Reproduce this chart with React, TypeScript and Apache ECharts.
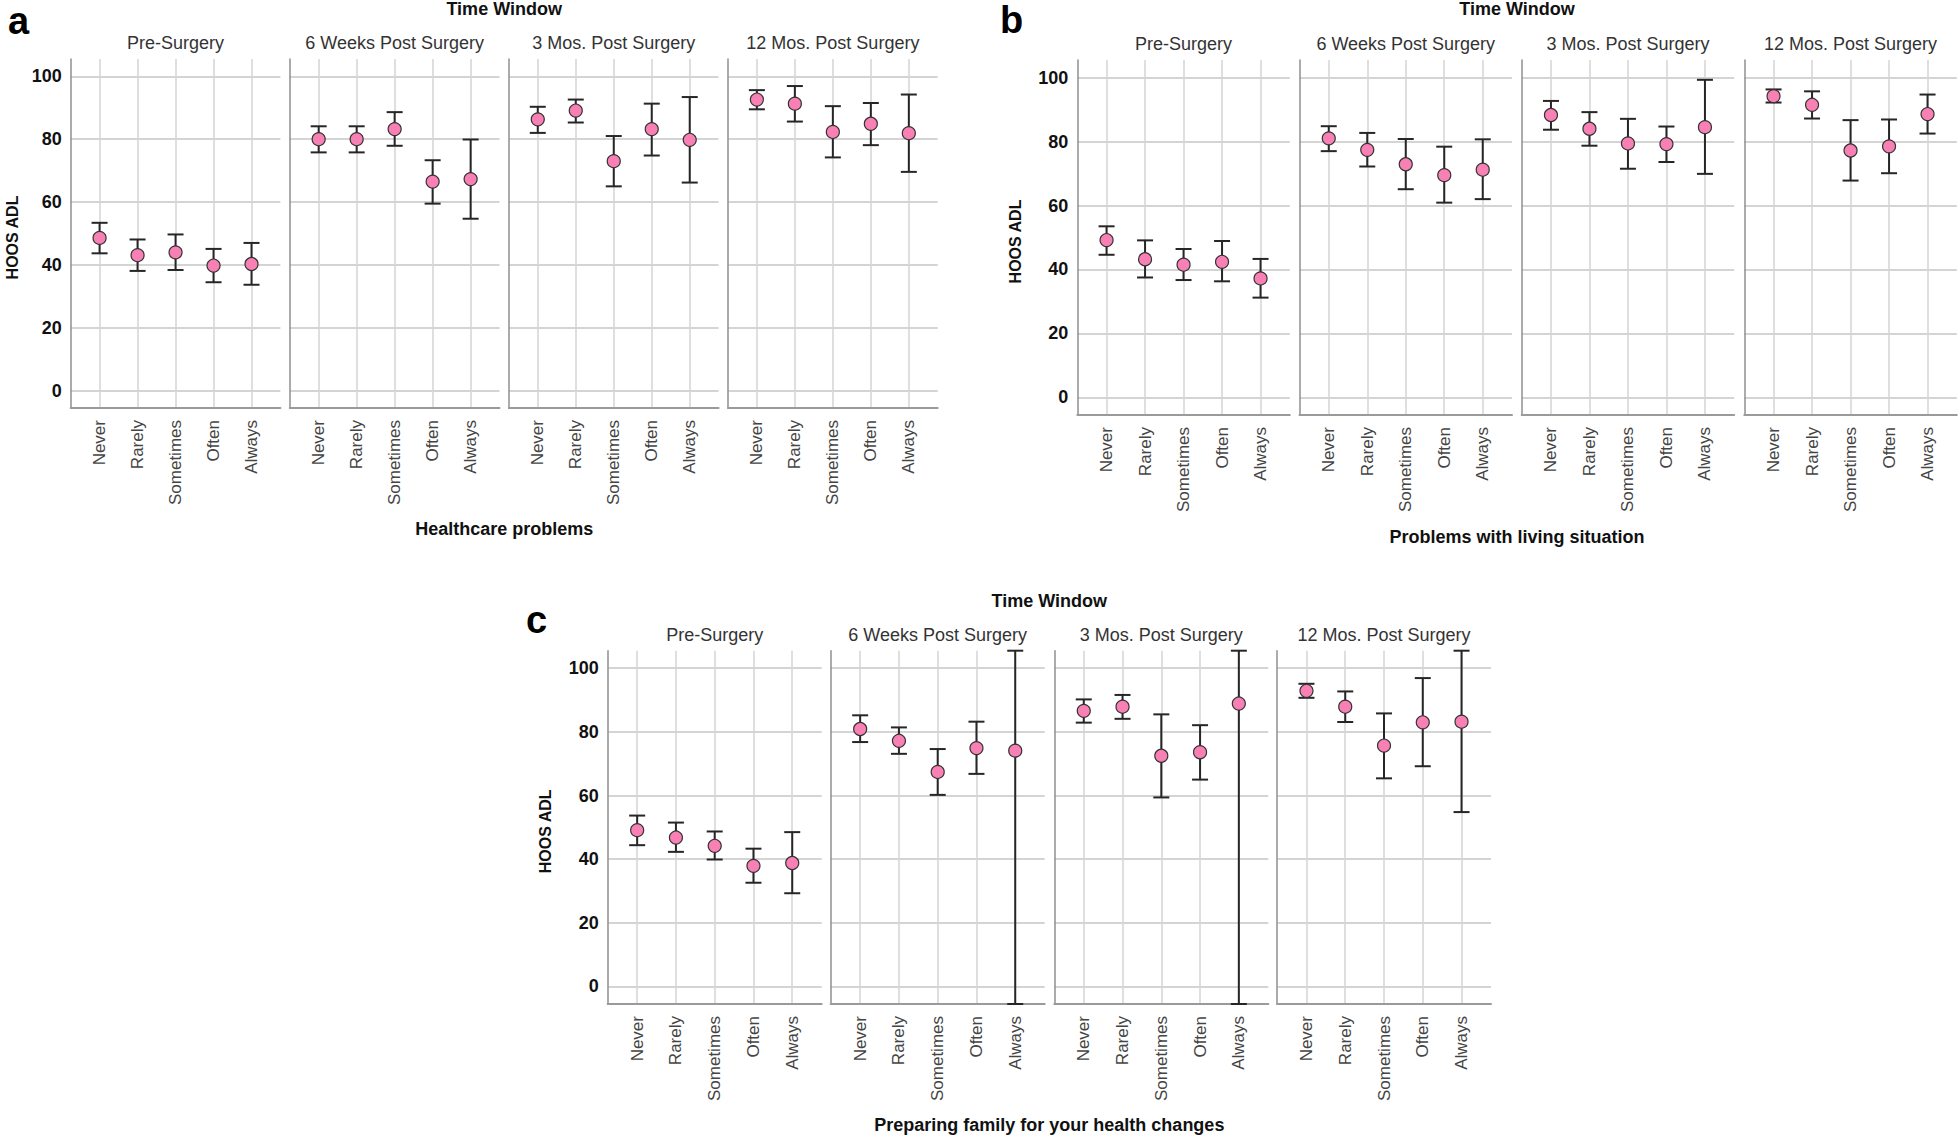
import React, { useEffect, useRef } from 'react';
import * as echarts from 'echarts';

// ---------- DATA ----------
const CATEGORIES = ['Never', 'Rarely', 'Sometimes', 'Often', 'Always'];
const TIME_WINDOWS = ['Pre-Surgery', '6 Weeks Post Surgery', '3 Mos. Post Surgery', '12 Mos. Post Surgery'];
const Y_TICKS = [0, 20, 40, 60, 80, 100];
const X_TICKS = [0, 1, 2, 3, 4];

// (a) Healthcare problems — rows: time windows, cols: categories
const A_MEAN = [
  [48.6, 43.1, 44.0, 39.8, 40.3],
  [80.0, 80.0, 83.2, 66.5, 67.3],
  [86.3, 89.1, 73.0, 83.2, 79.8],
  [92.6, 91.3, 82.3, 84.9, 81.9],
];
const A_LOW = [
  [43.7, 38.1, 38.4, 34.5, 33.7],
  [75.8, 75.8, 77.9, 59.5, 54.7],
  [82.0, 85.3, 65.0, 74.8, 66.2],
  [89.5, 85.6, 74.2, 78.1, 69.6],
];
const A_HIGH = [
  [53.4, 48.1, 49.7, 45.1, 47.0],
  [84.1, 84.1, 88.6, 73.3, 79.9],
  [90.3, 92.6, 81.0, 91.3, 93.4],
  [95.6, 96.9, 90.5, 91.5, 94.2],
];

// (b) Problems with living situation
const B_MEAN = [
  [49.2, 43.2, 41.5, 42.4, 37.2],
  [81.0, 77.4, 72.9, 69.5, 71.2],
  [88.3, 84.0, 79.4, 79.2, 84.5],
  [94.2, 91.5, 77.2, 78.5, 88.6],
];
const B_LOW = [
  [44.6, 37.5, 36.7, 36.3, 31.2],
  [77.0, 72.2, 65.1, 60.9, 62.0],
  [83.7, 78.7, 71.5, 73.6, 69.9],
  [92.2, 87.2, 67.8, 70.1, 82.5],
];
const B_HIGH = [
  [53.5, 49.1, 46.4, 48.9, 43.3],
  [84.8, 82.7, 80.8, 78.4, 80.7],
  [92.7, 89.2, 87.1, 84.7, 99.3],
  [96.3, 95.7, 86.7, 86.9, 94.7],
];

// (c) Preparing family for your health changes
const C_MEAN = [
  [49.1, 46.8, 44.2, 37.9, 38.8],
  [80.9, 77.2, 67.4, 74.9, 74.1],
  [86.6, 87.9, 72.5, 73.6, 88.9],
  [92.9, 87.9, 75.7, 83.0, 83.2],
];
const C_LOW = [
  [44.4, 42.3, 39.9, 32.6, 29.3],
  [76.8, 73.1, 60.2, 66.8, -5.5],
  [82.9, 84.1, 59.4, 65.0, -5.5],
  [90.7, 83.1, 65.4, 69.2, 54.8],
];
const C_HIGH = [
  [53.7, 51.5, 48.7, 43.3, 48.5],
  [85.2, 81.4, 74.6, 83.2, 105.5],
  [90.2, 91.6, 85.5, 82.1, 105.5],
  [95.1, 92.7, 85.8, 96.9, 105.5],
];

// ---------- LAYOUT ----------
const FONT = '"Liberation Sans", Arial, Helvetica, sans-serif';
const Y_MIN = -5.5;
const Y_MAX = 105.5;
const X_MIN = -0.76;
const X_MAX = 4.76;

const CHARTS = [
  {
    letter: 'a', xTitle: 'Healthcare problems',
    mean: A_MEAN, low: A_LOW, high: A_HIGH,
    lefts: [70.7, 289.8, 508.9, 728], width: 209.7, top: 59, height: 349,
    letterX: 8, letterY: 21, twY: 9, headerY: 42.5, xTitleY: 529, yTitleX: 12.5,
  },
  {
    letter: 'b', xTitle: 'Problems with living situation',
    mean: B_MEAN, low: B_LOW, high: B_HIGH,
    lefts: [1077.3, 1299.5, 1521.7, 1744.3], width: 212.5, top: 60, height: 355,
    letterX: 1000, letterY: 20, twY: 9, headerY: 44, xTitleY: 537, yTitleX: 1015,
  },
  {
    letter: 'c', xTitle: 'Preparing family for your health changes',
    mean: C_MEAN, low: C_LOW, high: C_HIGH,
    lefts: [607.7, 830.7, 1054.3, 1277], width: 214, top: 650.7, height: 353.3,
    letterX: 526, letterY: 620, twY: 601, headerY: 635, xTitleY: 1125, yTitleX: 545.5,
  },
];

function renderErrorBar(params: any, api: any) {
  const x = api.value(0);
  const lo = api.coord([x, api.value(1)]);
  const hi = api.coord([x, api.value(2)]);
  const hw = 8;
  const style = { stroke: '#262626', lineWidth: 2 };
  return {
    type: 'group',
    children: [
      { type: 'line', shape: { x1: lo[0], y1: lo[1], x2: hi[0], y2: hi[1] }, style },
      { type: 'line', shape: { x1: lo[0] - hw, y1: lo[1], x2: lo[0] + hw, y2: lo[1] }, style },
      { type: 'line', shape: { x1: hi[0] - hw, y1: hi[1], x2: hi[0] + hw, y2: hi[1] }, style },
    ],
  };
}

function buildOption() {
  const grid: any[] = [];
  const xAxis: any[] = [];
  const yAxis: any[] = [];
  const series: any[] = [];
  const graphic: any[] = [];

  CHARTS.forEach((ch, ci) => {
    const groupLeft = ch.lefts[0];
    const groupRight = ch.lefts[3] + ch.width;
    const groupCenter = (groupLeft + groupRight) / 2;

    TIME_WINDOWS.forEach((tw, ti) => {
      const g = ci * 4 + ti;
      grid.push({
        left: ch.lefts[ti], top: ch.top, width: ch.width, height: ch.height,
        containLabel: false, outerBoundsMode: 'none',
      });
      xAxis.push({
        gridIndex: g, type: 'value', min: X_MIN, max: X_MAX,
        axisLine: { show: true, onZero: false, lineStyle: { color: '#9a9a9a', width: 2 } },
        axisTick: { show: false, customValues: X_TICKS },
        axisLabel: {
          show: true, customValues: X_TICKS, rotate: 90, margin: 12,
          formatter: (v: number) => CATEGORIES[Math.round(v)] ?? '',
          fontSize: 17, color: '#444', fontFamily: FONT,
        },
        splitLine: { show: true, lineStyle: { color: '#d4d4d4', width: 1.5 } },
      });
      yAxis.push({
        gridIndex: g, type: 'value', min: Y_MIN, max: Y_MAX,
        axisLine: { show: true, onZero: false, lineStyle: { color: '#8f8f8f', width: 1.5 } },
        axisTick: { show: false, customValues: Y_TICKS },
        axisLabel: {
          show: ti === 0, customValues: Y_TICKS, margin: 9,
          fontSize: 18, fontWeight: 'bold', color: '#111', fontFamily: FONT,
        },
        splitLine: { show: true, lineStyle: { color: '#d4d4d4', width: 2 } },
      });
      series.push({
        type: 'custom', xAxisIndex: g, yAxisIndex: g, z: 4, clip: false,
        data: CATEGORIES.map((_, i) => [i, ch.low[ti][i], ch.high[ti][i]]),
        encode: { x: 0, y: [1, 2] },
        renderItem: renderErrorBar,
        silent: true,
      });
      series.push({
        type: 'scatter', xAxisIndex: g, yAxisIndex: g, z: 5,
        data: CATEGORIES.map((_, i) => [i, ch.mean[ti][i]]),
        symbol: 'circle', symbolSize: 13,
        itemStyle: { color: '#f880b4', borderColor: '#333', borderWidth: 1.2, opacity: 1 },
        silent: true,
      });
      graphic.push({
        type: 'text', x: ch.lefts[ti] + ch.width / 2, y: ch.headerY,
        style: {
          text: tw, font: `18px ${FONT}`, fill: '#333',
          align: 'center', verticalAlign: 'middle', textAlign: 'center', textVerticalAlign: 'middle',
        },
      });
    });

    graphic.push({
      type: 'text', x: ch.letterX, y: ch.letterY,
      style: {
        text: ch.letter, font: `bold 38px ${FONT}`, fill: '#000',
        align: 'left', verticalAlign: 'middle', textAlign: 'left', textVerticalAlign: 'middle',
      },
    });
    graphic.push({
      type: 'text', x: groupCenter, y: ch.twY,
      style: {
        text: 'Time Window', font: `bold 18px ${FONT}`, fill: '#111',
        align: 'center', verticalAlign: 'middle', textAlign: 'center', textVerticalAlign: 'middle',
      },
    });
    graphic.push({
      type: 'text', x: groupCenter, y: ch.xTitleY,
      style: {
        text: ch.xTitle, font: `bold 18px ${FONT}`, fill: '#111',
        align: 'center', verticalAlign: 'middle', textAlign: 'center', textVerticalAlign: 'middle',
      },
    });
    graphic.push({
      type: 'text', x: ch.yTitleX, y: ch.top + ch.height / 2 + 4, rotation: Math.PI / 2,
      style: {
        text: 'HOOS ADL', font: `bold 16px ${FONT}`, fill: '#111',
        align: 'center', verticalAlign: 'middle', textAlign: 'center', textVerticalAlign: 'middle',
      },
    });
  });

  return {
    animation: false,
    backgroundColor: '#ffffff',
    textStyle: { fontFamily: FONT },
    grid, xAxis, yAxis, series, graphic,
  };
}

export default function App() {
  const ref = useRef<HTMLDivElement>(null);
  useEffect(() => {
    if (!ref.current) return;
    const chart = echarts.init(ref.current, undefined, { renderer: 'svg' });
    chart.setOption(buildOption() as any);
    return () => chart.dispose();
  }, []);
  return (
    <div
      ref={ref}
      style={{ position: 'absolute', left: 0, top: 0, width: 1960, height: 1137, background: '#fff' }}
    />
  );
}
